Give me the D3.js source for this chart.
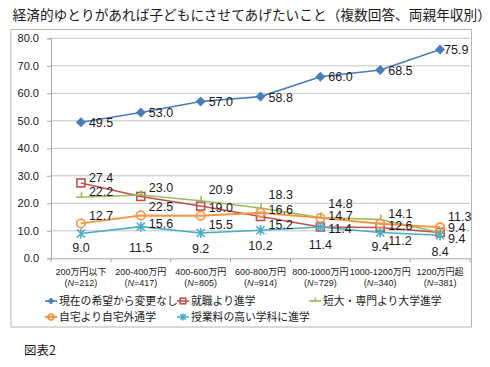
<!DOCTYPE html>
<html lang="ja">
<head>
<meta charset="utf-8">
<script src="https://cdn.jsdelivr.net/npm/d3@7"></script>
<style>
  body { margin: 0; background: #fff; }
  svg text { font-family: "Liberation Sans", Arial, "Noto Sans CJK JP", sans-serif; fill: #1a1a1a; }
  svg text.jp { font-family: "Noto Sans CJK JP", sans-serif; }
</style>
</head>
<body>
<div id="chart"></div>
<script>
// data
const categories = ["200万円以下", "200-400万円", "400-600万円", "600-800万円", "800-1000万円", "1000-1200万円", "1200万円超"];
const sampleSizes = ["212", "417", "805", "914", "729", "340", "381"];
const seriesNames = ["現在の希望から変更なし", "就職より進学", "短大・専門より大学進学", "自宅より自宅外通学", "授業料の高い学科に進学"];
const noChange      = [49.5, 53.0, 57.0, 58.8, 66.0, 68.5, 75.9];
const employToStudy = [27.4, 22.5, 19.0, 15.2, 11.4, 11.2, 9.4];
const juniorToUniv  = [22.2, 23.0, 20.9, 18.3, 14.8, 14.1, 9.4];
const awayFromHome  = [12.7, 15.6, 15.5, 16.6, 14.7, 12.6, 11.3];
const higherTuition = [9.0, 11.5, 9.2, 10.2, 11.4, 9.4, 8.4];
const yTicks = [0, 10, 20, 30, 40, 50, 60, 70, 80];

// label nudges (px), labels were hand placed in the original
const labelDy = [
  [0, 0, 0, 1, 0, 1, 0],
  [-5, 10, 1.5, 8, 1.5, 12.5, 6.5],
  [-5.5, -7.5, -11, -13, -14, -6, -5],
  [-8, 8, 8.5, -3, -2, 2, -10.5],
  [14, 21, 15, 15, 18, 14, 16]
];

const W = 490, H = 367;
const plot = { left: 51, right: 470, top: 38.3, bottom: 258.3 };

const svg = d3.select("#chart").append("svg")
  .attr("width", W).attr("height", H);

// title
svg.append("text").attr("class", "jp")
  .attr("x", 12.5).attr("y", 20)
  .style("font-size", "13.7px")
  .text("経済的ゆとりがあれば子どもにさせてあげたいこと（複数回答、両親年収別）");

// chart box
svg.append("rect")
  .attr("x", 11).attr("y", 29.5).attr("width", 460.5).attr("height", 297.5)
  .attr("fill", "#fff").attr("stroke", "#b5b5b5").attr("stroke-width", 1);

const x = d3.scaleBand().domain(categories).range([plot.left, plot.right]);
const y = d3.scaleLinear().domain([0, 80]).range([plot.bottom, plot.top]);
const cx = d => x(d) + x.bandwidth() / 2;

// gridlines
svg.append("g").selectAll("line").data(yTicks.filter(t => t > 0)).join("line")
  .attr("x1", plot.left).attr("x2", plot.right)
  .attr("y1", d => y(d)).attr("y2", d => y(d))
  .attr("stroke", "#c3c3c3").attr("stroke-width", 1);

// y axis
const yAxis = svg.append("g")
  .attr("transform", "translate(" + plot.left + ",0)")
  .call(d3.axisLeft(y).tickValues(yTicks).tickSize(4).tickPadding(8).tickFormat(d3.format(".1f")));
yAxis.select(".domain").attr("stroke", "#a8a8a8");
yAxis.selectAll(".tick line").attr("stroke", "#a8a8a8");
yAxis.selectAll(".tick text").style("font-size", "11px").attr("fill", "#1a1a1a")
  .style("font-family", "'Liberation Sans', Arial, sans-serif");

// x axis
const xAxis = svg.append("g")
  .attr("transform", "translate(0," + plot.bottom + ")")
  .call(d3.axisBottom(x).tickSize(0).tickFormat(""));
xAxis.select(".domain").attr("stroke", "#a8a8a8");
xAxis.selectAll(".tick").remove();
svg.append("g").selectAll("line").data(d3.range(categories.length + 1)).join("line")
  .attr("x1", i => plot.left + i * x.step()).attr("x2", i => plot.left + i * x.step())
  .attr("y1", plot.bottom).attr("y2", plot.bottom + 4)
  .attr("stroke", "#a8a8a8");

const xl = svg.append("g").selectAll("g").data(categories).join("g")
  .attr("transform", d => "translate(" + cx(d) + ",0)");
xl.append("text").attr("y", 275).attr("text-anchor", "middle")
  .style("font-size", "9px").text(d => d);
const nl = xl.append("text").attr("y", 286).attr("text-anchor", "middle").style("font-size", "9px");
nl.append("tspan").text("(");
nl.append("tspan").style("font-style", "italic").text("N");
nl.append("tspan").text((d, i) => "=" + sampleSizes[i] + ")");

// series
const colors = ["#4a7ebb", "#c0504d", "#9bbb59", "#f79646", "#4bacc6"];
const values = [noChange, employToStudy, juniorToUniv, awayFromHome, higherTuition];

function marker(g, k, s, color) {
  if (k === 0) {
    g.append("path").attr("d", "M0,-" + s + "L" + s + ",0L0," + s + "L-" + s + ",0Z").attr("fill", color);
  } else if (k === 1) {
    const h = s * 0.8;
    g.append("rect").attr("x", -h).attr("y", -h).attr("width", 2 * h).attr("height", 2 * h)
      .attr("fill", "none").attr("stroke", color).attr("stroke-width", 1.6);
  } else if (k === 2) {
    g.append("path").attr("d", "M-" + s + ",0H0.5V-" + s).attr("fill", "none")
      .attr("stroke", color).attr("stroke-width", 1.6);
  } else if (k === 3) {
    g.append("circle").attr("r", s * 0.85).attr("fill", "none")
      .attr("stroke", color).attr("stroke-width", 1.8);
  } else {
    const a = s * 0.8;
    g.append("path").attr("d", "M-" + a + ",-" + a + "L" + a + "," + a + "M" + a + ",-" + a + "L-" + a + "," + a + "M0,-" + s + "V" + s)
      .attr("stroke", color).attr("stroke-width", 1.6);
  }
}

const line = d3.line().x((d, i) => cx(categories[i])).y(d => y(d));

values.forEach((vals, k) => {
  svg.append("path").datum(vals)
    .attr("d", line)
    .attr("fill", "none").attr("stroke", colors[k])
    .attr("stroke-width", k === 3 ? 2 : 1.6);
  vals.forEach((v, i) => {
    const g = svg.append("g").attr("transform", "translate(" + cx(categories[i]) + "," + y(v) + ")");
    marker(g, k, 5, colors[k]);
  });
});

// data labels
values.forEach((vals, k) => {
  svg.append("g").selectAll("text").data(vals).join("text")
    .attr("x", (d, i) => {
      if (k === 4) return cx(categories[i]);
      if (k === 0 && i === 6) return cx(categories[i]) + 4;
      return cx(categories[i]) + 8;
    })
    .attr("y", (d, i) => y(d) + labelDy[k][i])
    .attr("dy", "0.36em")
    .attr("text-anchor", k === 4 ? "middle" : "start")
    .style("font-size", "12.5px")
    .text(d => d.toFixed(1));
});

// legend
const legendPos = [[45, 301], [177, 301], [309, 301], [45, 317], [177, 317]];
seriesNames.forEach((name, k) => {
  const g = svg.append("g").attr("transform", "translate(" + legendPos[k][0] + "," + legendPos[k][1] + ")");
  g.append("line").attr("x1", 0).attr("x2", 12).attr("stroke", colors[k]).attr("stroke-width", k === 3 ? 2 : 1.6);
  const m = g.append("g").attr("transform", "translate(6,0)");
  marker(m, k, 3.5, colors[k]);
  g.append("text").attr("x", 14).attr("dy", "0.36em")
    .style("font-size", "10.8px").text(name);
});

svg.append("text").attr("class", "jp")
  .attr("x", 24).attr("y", 354.5)
  .style("font-size", "12.5px")
  .text("図表2");
</script>
</body>
</html>
